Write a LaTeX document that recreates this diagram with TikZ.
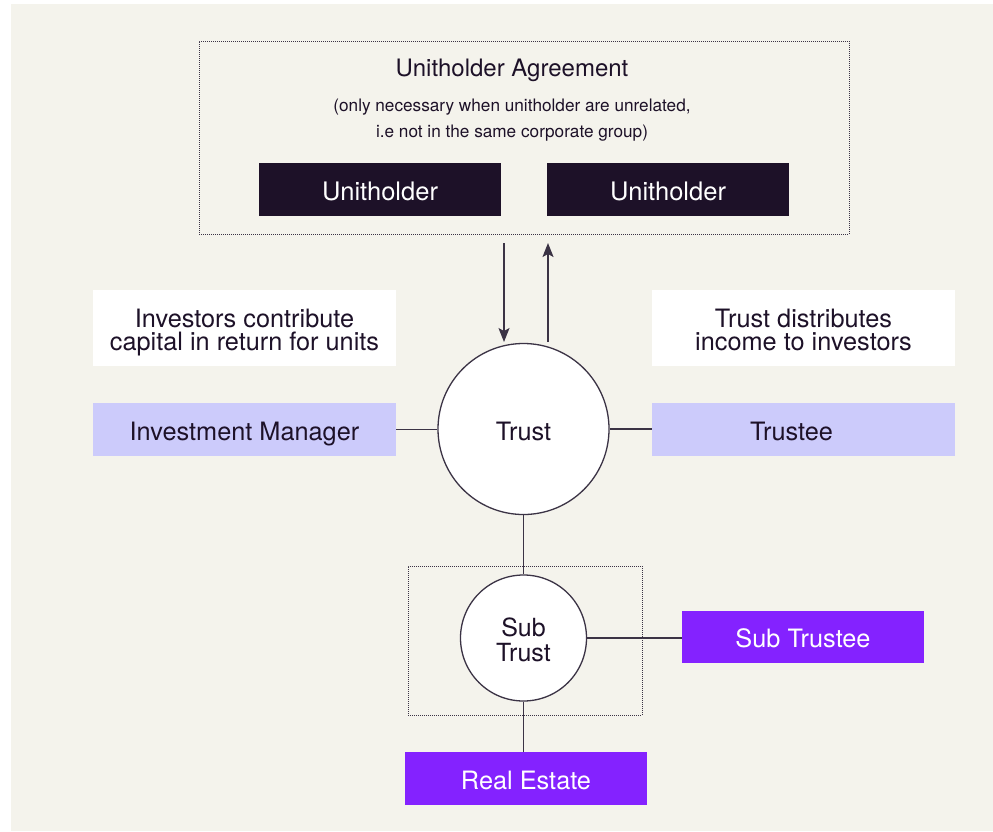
\documentclass[tikz,border=0pt]{standalone}
\usepackage{fontspec}
\setmainfont{TeX Gyre Heros}
\usetikzlibrary{arrows.meta}
\definecolor{bg}{HTML}{F4F3EC}
\definecolor{ink}{HTML}{1D1128}
\definecolor{lav}{HTML}{CCCBFB}
\definecolor{purp}{HTML}{8422FF}
\definecolor{wire}{HTML}{3B3345}
\begin{document}
\begin{tikzpicture}[x=1pt,y=-1pt,
  lbl/.style={font=\fontsize{25.3}{23}\selectfont, text=ink, text height=21pt, text depth=0pt, inner sep=0pt, align=center},
  boxnode/.style={rectangle, minimum width=303pt, minimum height=53pt},
  dotbox/.style={draw=wire, line width=0.9pt, dash pattern=on 1pt off 1pt},
  wireline/.style={draw=wire, line width=1.3pt},
  arr/.style={wireline, -{Stealth[length=14pt,width=11pt,inset=3pt]}},
  circ/.style={circle, draw=wire, line width=1.3pt, fill=white, inner sep=0pt}
]
\useasboundingbox (0,0) rectangle (993,831);
\fill[white] (0,0) rectangle (993,831);
\fill[bg] (11,4) rectangle (993,831);

% agreement box
\node[dotbox, minimum width=650pt, minimum height=193pt, inner sep=0pt] (agree) at (524,137.5) {};
\node[font=\fontsize{24}{28}\selectfont, text=ink, anchor=base, inner sep=0pt] (agtitle) at (512,76.5) {Unitholder Agreement};
\node[font=\fontsize{17.2}{20}\selectfont, text=ink, anchor=base, inner sep=0pt] (agsub1) at (512,111.5) {(only necessary when unitholder are unrelated,};
\node[font=\fontsize{17.2}{20}\selectfont, text=ink, anchor=base, inner sep=0pt] (agsub2) at (512,137) {i.e not in the same corporate group)};

\node[lbl, fill=ink, text=white, minimum width=242pt, minimum height=53pt, font=\fontsize{25.5}{25}\selectfont] (uh1) at (380,189.5) {Unitholder};
\node[lbl, fill=ink, text=white, minimum width=242pt, minimum height=53pt, font=\fontsize{25.5}{25}\selectfont] (uh2) at (668,189.5) {Unitholder};

% explanation boxes
\node[lbl, boxnode, fill=white, minimum height=76pt, text height=44pt] (inv) at (244.5,328) {Investors contribute\\capital in return for units};
\node[lbl, boxnode, fill=white, minimum height=76pt, text height=44pt] (dist) at (803.5,328) {Trust distributes\\income to investors};

\node[lbl, boxnode, fill=lav] (im) at (244.5,429.5) {Investment Manager};
\node[lbl, boxnode, fill=lav, align=left] (tee) at (803.5,429.5) {\hspace*{-24pt}Trustee};

\node[lbl, circ, minimum size=171pt, text height=22pt] (trust) at (523.5,429) {Trust};

% sub trust area
\node[dotbox, minimum width=234pt, minimum height=149pt, inner sep=0pt] (subarea) at (525,640.5) {};
\node[lbl, circ, minimum size=126pt, font=\fontsize{25}{25}\selectfont, text height=47pt] (st) at (523.5,638) {Sub\\Trust};

\node[lbl, fill=purp, text=white, minimum width=242pt, minimum height=52pt] (stee) at (803,637) {Sub Trustee};
\node[lbl, fill=purp, text=white, minimum width=242pt, minimum height=53pt] (re) at (526,778.5) {Real Estate};

% connectors
\coordinate (ina) at (504,243);
\coordinate (inb) at (504,342);
\coordinate (outa) at (548,342);
\coordinate (outb) at (548,243);
\draw[arr] (ina) -- (inb);
\draw[arr] (outa) -- (outb);

\draw[wireline] (im.east) -- (im.east -| trust.west);
\draw[wireline] (trust.east) -- (trust.east -| tee.west);
\draw[wireline] (trust.south) -- (st.north);
\draw[wireline] (st.east) -- (st.east -| stee.west);
\draw[wireline] (st.south) -- (st.south |- re.north);
\end{tikzpicture}
\end{document}
